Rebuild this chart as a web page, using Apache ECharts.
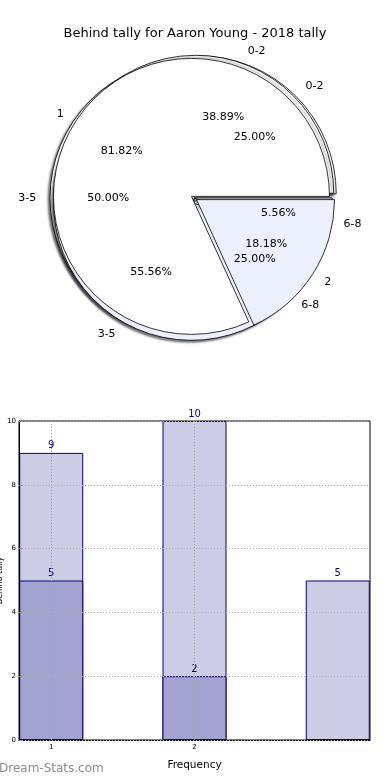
<!DOCTYPE html>
<html>
<head>
<meta charset="utf-8">
<script src="https://cdn.jsdelivr.net/npm/echarts@6/dist/echarts.min.js"></script>
<style>
html,body{margin:0;padding:0;background:#fff;}
#c{width:390px;height:780px;}
</style>
</head>
<body>
<div id="c"></div>
<script>
// ---- data ----
const titleText = 'Behind tally for Aaron Young - 2018 tally';
const pieALabels = ['1', '2'];
const pieAValues = [9, 2];
const pieBLabels = ['0-2', '3-5', '6-8'];
const pieBValues = [7, 10, 1];
const pieCLabels = ['0-2', '3-5', '6-8'];
const pieCValues = [1, 2, 1];

const barX = [1, 2, 3];
const barLightValues = [9, 10, 5];
const barDarkX = [1, 2];
const barDarkValues = [5, 2];
const xTickValues = [1, 2];

// ---- styling ----
const FONT = 'DejaVu Sans';
const R = 138;
const CX = 194, CY = 198;
const LIGHTBLUE = '#EBF0FC';

function pieSeries(labels, values, colors, selected, offset, shadow) {
  return {
    type: 'pie',
    center: [CX, CY],
    radius: [0, R],
    startAngle: 0,
    clockwise: false,
    avoidLabelOverlap: false,
    selectedMode: 'multiple',
    selectedOffset: offset,
    silent: true,
    animation: false,
    itemStyle: Object.assign({
      borderColor: '#000',
      borderWidth: 0.8
    }, shadow ? {
      shadowColor: 'rgba(0,0,0,0.5)',
      shadowBlur: 2,
      shadowOffsetX: -2,
      shadowOffsetY: 2
    } : {}),
    label: {
      show: true,
      position: 'outside',
      formatter: '{b}',
      fontFamily: FONT,
      fontSize: 11,
      color: '#000',
      distanceToLabelLine: 0
    },
    labelLine: { show: true, length: R * 0.1, length2: 0, lineStyle: { opacity: 0 } },
    emphasis: { disabled: true },
    data: labels.map((n, i) => ({
      name: n, value: values[i], selected: selected[i],
      itemStyle: { color: colors[i] }
    }))
  };
}

function pctSeries(labels, values) {
  const total = values.reduce((a, b) => a + b, 0);
  return {
    type: 'pie',
    center: [CX, CY],
    radius: [R * 0.2, R],
    startAngle: 0,
    clockwise: false,
    avoidLabelOverlap: false,
    silent: true,
    animation: false,
    z: 5,
    itemStyle: { color: 'rgba(0,0,0,0)', borderWidth: 0 },
    label: {
      show: true,
      position: 'inside',
      fontFamily: FONT,
      fontSize: 11,
      color: '#000',
      formatter: p => (p.value / total * 100).toFixed(2) + '%'
    },
    labelLine: { show: false },
    emphasis: { disabled: true },
    data: labels.map((n, i) => ({ name: n, value: values[i] }))
  };
}

const chart = echarts.init(document.getElementById('c'), null, { renderer: 'canvas' });

const option = {
  backgroundColor: '#fff',
  animation: false,
  title: {
    text: titleText,
    left: 'center',
    top: 22,
    textStyle: { fontFamily: FONT, fontSize: 13, fontWeight: 'normal', color: '#000' }
  },
  graphic: [{
    type: 'text',
    left: -1,
    top: 763,
    style: { text: 'Dream-Stats.com', fontFamily: FONT, fontSize: 12, fill: '#8c8c8c' }
  }],
  grid: {
    left: 19, right: 20, top: 421, bottom: 40,
    containLabel: false,
    outerBoundsMode: 'none',
    show: true, borderColor: '#000', borderWidth: 1, backgroundColor: 'transparent'
  },
  xAxis: {
    type: 'value',
    min: 0.775, max: 3.225,
    name: 'Frequency',
    nameLocation: 'middle',
    nameGap: 20,
    nameTextStyle: { fontFamily: FONT, fontSize: 10.5, color: '#000' },
    axisLine: { show: true, lineStyle: { color: '#000' } },
    axisTick: { show: true, inside: true, length: 3, customValues: xTickValues, lineStyle: { color: '#888' } },
    axisLabel: { customValues: xTickValues, fontFamily: FONT, fontSize: 7, color: '#000', margin: 4 },
    splitLine: { show: false }
  },
  yAxis: {
    type: 'value',
    min: 0, max: 10, interval: 2,
    z: 3,
    name: 'Behind tally',
    nameLocation: 'middle',
    nameRotate: 90,
    nameGap: 15,
    nameMoveOverlap: false,
    nameTextStyle: { fontFamily: FONT, fontSize: 8, color: '#000' },
    axisLine: { show: true, lineStyle: { color: '#000' } },
    axisTick: { show: true, inside: true, length: 3, lineStyle: { color: '#888' } },
    axisLabel: { fontFamily: FONT, fontSize: 7, color: '#000', margin: 3 },
    splitLine: { show: true, lineStyle: { color: '#b0b0b0', type: [1, 2], width: 1 } }
  },
  series: [
    pieSeries(pieCLabels, pieCValues, ['#fff', '#fff', LIGHTBLUE], [true, true, false], 6, true),
    pieSeries(pieBLabels, pieBValues, ['#fff', LIGHTBLUE, '#fff'], [true, true, false], 5, true),
    pieSeries(pieALabels, pieAValues, ['#fff', LIGHTBLUE], [true, true], 3, false),
    pctSeries(pieCLabels, pieCValues),
    pctSeries(pieBLabels, pieBValues),
    pctSeries(pieALabels, pieAValues),
    {
      type: 'bar',
      barWidth: 64,
      barGap: '-100%',
      silent: true,
      itemStyle: { color: '#CCCCE4', borderColor: '#000080', borderWidth: 1 },
      label: { show: true, position: 'top', distance: 2, fontFamily: FONT, fontSize: 10, color: '#000080' },
      data: barX.map((x, i) => [x, barLightValues[i]])
    },
    {
      type: 'bar',
      barWidth: 64,
      barGap: '-100%',
      silent: true,
      itemStyle: { color: '#A3A3D0', borderColor: '#000080', borderWidth: 1 },
      label: { show: true, position: 'top', distance: 2, fontFamily: FONT, fontSize: 10, color: '#000080' },
      markLine: {
        silent: true,
        symbol: ['none', 'none'],
        label: { show: false },
        lineStyle: { color: '#a0a0a0', type: [1, 2], width: 1 },
        data: xTickValues.map(v => ({ xAxis: v }))
      },
      data: barDarkX.map((x, i) => [x, barDarkValues[i]])
    }
  ]
};
chart.setOption(option);
</script>
</body>
</html>
